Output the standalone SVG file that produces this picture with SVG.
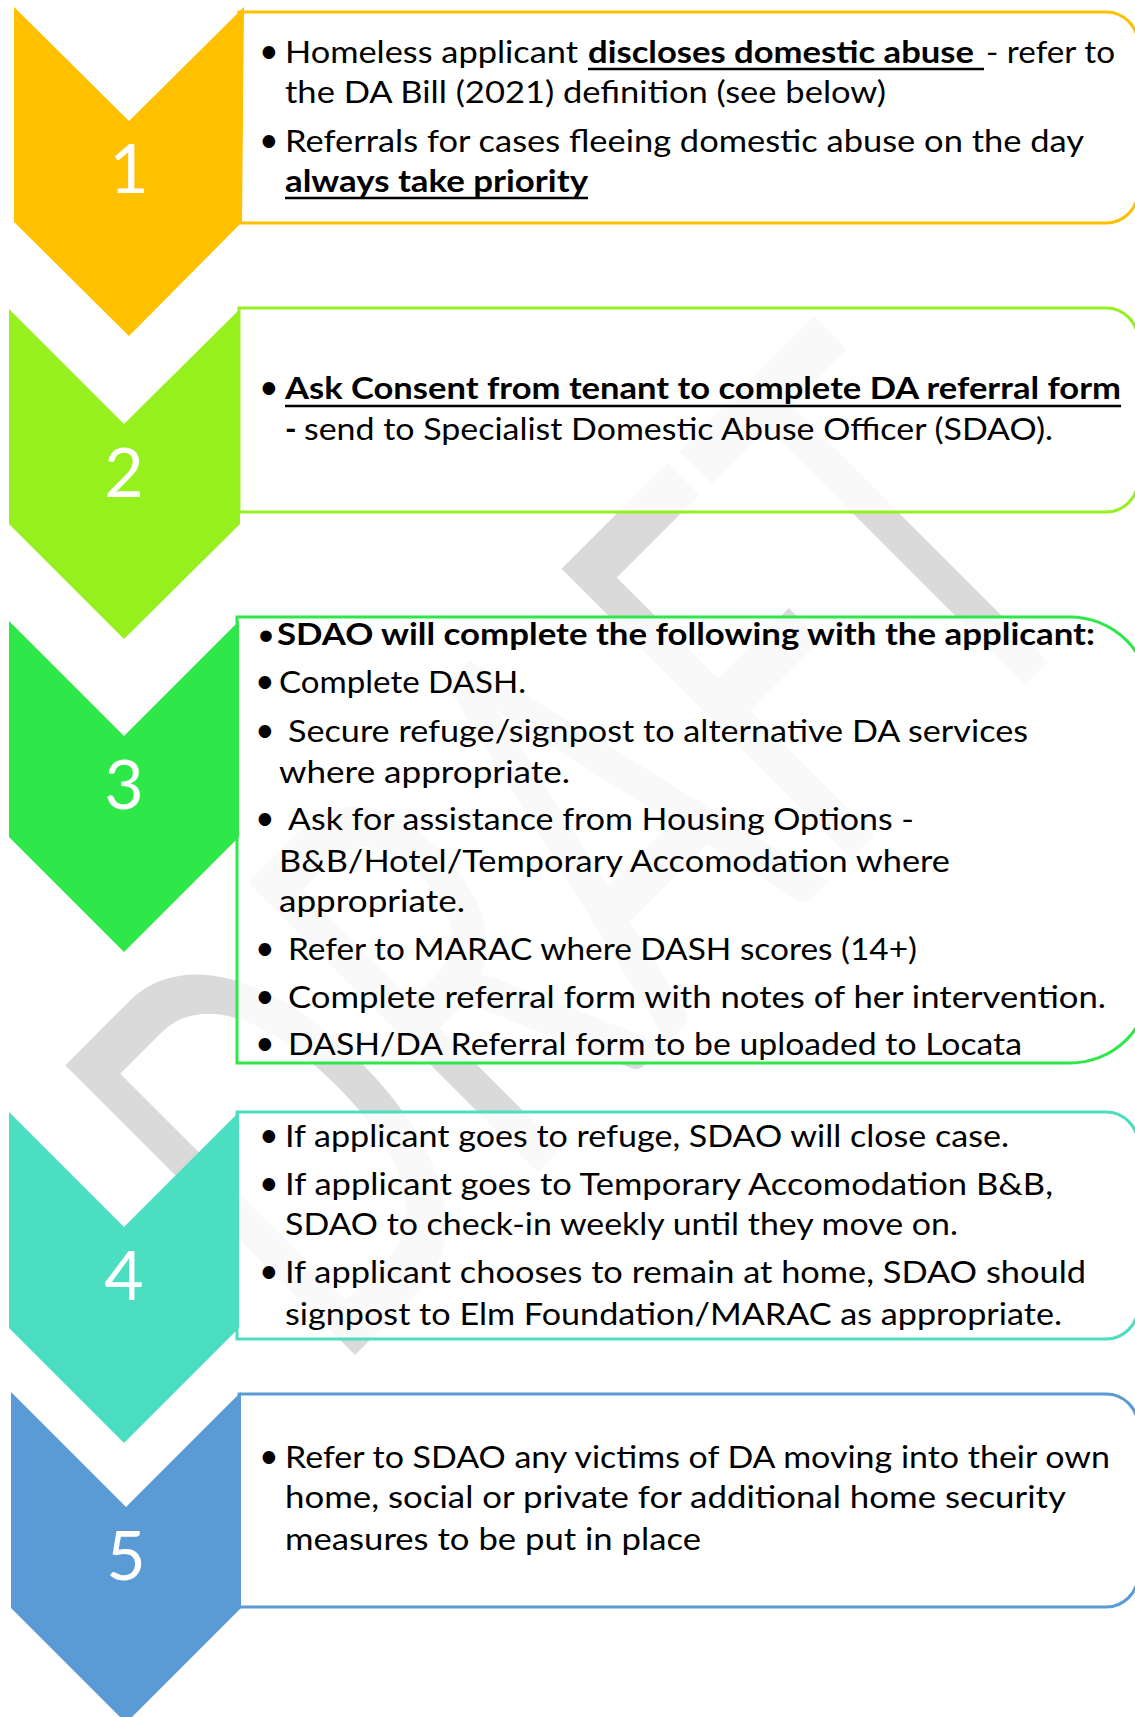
<svg xmlns="http://www.w3.org/2000/svg" width="1135" height="1717" viewBox="0 0 1135 1717">
<style>
.t{font-family:Lato,"Liberation Sans",sans-serif;font-size:31px;fill:#000}
.b{font-weight:bold}
.bl{font-family:Lato,"Liberation Sans",sans-serif;font-size:34px;fill:#000}
.num{font-family:Lato,"Liberation Sans",sans-serif;font-size:68px;fill:#fff;text-anchor:middle}
.box{fill:#fff;fill-opacity:0.82;stroke-width:3}
.ul{stroke:#000;stroke-width:2.5}
.wm{font-family:Lato,"Liberation Sans",sans-serif;font-size:572px;fill:#DADADA}
</style>
<rect width="1135" height="1717" fill="#fff"/>
<g id="watermark">
<text class="wm" transform="translate(333,1377) rotate(-45)" textLength="1095" lengthAdjust="spacingAndGlyphs">DRAFT</text>
</g>

<g id="step1">
<path class="box" stroke="#FFC000" d="M239,12 H1106 A32,32 0 0 1 1138,44 V191 A32,32 0 0 1 1106,223 H239 Z"/>
<polygon fill="#FFC000" points="14,7 129,121 244,7 242,222 129,336 14,222"/>
<text class="num" x="129" y="193">1</text>
<text class="bl" x="259" y="63">•</text>
<text class="t" x="285" y="63" textLength="293" lengthAdjust="spacingAndGlyphs">Homeless applicant</text>
<text class="t b" x="588" y="63" textLength="386" lengthAdjust="spacingAndGlyphs">discloses domestic abuse</text>
<line class="ul" x1="588" y1="69" x2="984" y2="69"/>
<text class="t" x="986" y="63" textLength="129" lengthAdjust="spacingAndGlyphs">- refer to</text>
<text class="t" x="285" y="103" textLength="601" lengthAdjust="spacingAndGlyphs">the DA Bill (2021) definition (see below)</text>
<text class="bl" x="259" y="152">•</text>
<text class="t" x="285" y="152" textLength="799" lengthAdjust="spacingAndGlyphs">Referrals for cases fleeing domestic abuse on the day</text>
<text class="t b" x="285" y="192" textLength="303" lengthAdjust="spacingAndGlyphs">always take priority</text>
<line class="ul" x1="285" y1="198" x2="588" y2="198"/>
</g>

<g id="step2">
<path class="box" stroke="#96F01E" d="M239,308 H1106 A32,32 0 0 1 1138,340 V480 A32,32 0 0 1 1106,512 H239 Z"/>
<polygon fill="#96F01E" points="9,309 124,424 240,309 240,524 124,639 9,524"/>
<text class="num" x="124" y="497">2</text>
<text class="bl" x="259" y="399">•</text>
<text class="t b" x="285" y="399" textLength="836" lengthAdjust="spacingAndGlyphs">Ask Consent from tenant to complete DA referral form</text>
<line class="ul" x1="285" y1="406" x2="1121" y2="406"/>
<text class="t b" x="285" y="440">-</text>
<text class="t" x="304" y="440" textLength="749" lengthAdjust="spacingAndGlyphs">send to Specialist Domestic Abuse Officer (SDAO).</text>
</g>

<g id="step3">
<path class="box" stroke="#2EE84A" d="M237,617 H1070 A80,80 0 0 1 1150,697 V983 A80,80 0 0 1 1070,1063 H237 Z"/>
<polygon fill="#2EE84A" points="9,621 124,736 239,621 239,837 124,952 9,837"/>
<text class="num" x="124" y="809">3</text>
<text class="t" x="257" y="645">•</text>
<text class="t b" x="277" y="645" textLength="818" lengthAdjust="spacingAndGlyphs">SDAO will complete the following with the applicant:</text>
<text class="bl" x="255" y="693">•</text>
<text class="t" x="279" y="693" textLength="247" lengthAdjust="spacingAndGlyphs">Complete DASH.</text>
<text class="bl" x="255" y="742">•</text>
<text class="t" x="288" y="742" textLength="740" lengthAdjust="spacingAndGlyphs">Secure refuge/signpost to alternative DA services</text>
<text class="t" x="279" y="783" textLength="291" lengthAdjust="spacingAndGlyphs">where appropriate.</text>
<text class="bl" x="255" y="830">•</text>
<text class="t" x="288" y="830" textLength="626" lengthAdjust="spacingAndGlyphs">Ask for assistance from Housing Options -</text>
<text class="t" x="279" y="872" textLength="671" lengthAdjust="spacingAndGlyphs">B&amp;B/Hotel/Temporary Accomodation where</text>
<text class="t" x="279" y="912" textLength="186" lengthAdjust="spacingAndGlyphs">appropriate.</text>
<text class="bl" x="255" y="960">•</text>
<text class="t" x="288" y="960" textLength="629" lengthAdjust="spacingAndGlyphs">Refer to MARAC where DASH scores (14+)</text>
<text class="bl" x="255" y="1008">•</text>
<text class="t" x="288" y="1008" textLength="818" lengthAdjust="spacingAndGlyphs">Complete referral form with notes of her intervention.</text>
<text class="bl" x="255" y="1055">•</text>
<text class="t" x="288" y="1055" textLength="734" lengthAdjust="spacingAndGlyphs">DASH/DA Referral form to be uploaded to Locata</text>
</g>

<g id="step4">
<path class="box" stroke="#4BDEC0" d="M237,1112 H1106 A32,32 0 0 1 1138,1144 V1307 A32,32 0 0 1 1106,1339 H237 Z"/>
<polygon fill="#4BDEC0" points="9,1112 124,1227 239,1112 239,1328 124,1443 9,1328"/>
<text class="num" x="124" y="1300">4</text>
<text class="bl" x="259" y="1147">•</text>
<text class="t" x="285" y="1147" textLength="724" lengthAdjust="spacingAndGlyphs">If applicant goes to refuge, SDAO will close case.</text>
<text class="bl" x="259" y="1195">•</text>
<text class="t" x="285" y="1195" textLength="768" lengthAdjust="spacingAndGlyphs">If applicant goes to Temporary Accomodation B&amp;B,</text>
<text class="t" x="285" y="1235" textLength="673" lengthAdjust="spacingAndGlyphs">SDAO to check-in weekly until they move on.</text>
<text class="bl" x="259" y="1283">•</text>
<text class="t" x="285" y="1283" textLength="801" lengthAdjust="spacingAndGlyphs">If applicant chooses to remain at home, SDAO should</text>
<text class="t" x="285" y="1325" textLength="777" lengthAdjust="spacingAndGlyphs">signpost to Elm Foundation/MARAC as appropriate.</text>
</g>

<g id="step5">
<path class="box" stroke="#5B9BD5" d="M239,1394 H1106 A32,32 0 0 1 1138,1426 V1575 A32,32 0 0 1 1106,1607 H239 Z"/>
<polygon fill="#5B9BD5" points="11,1392 126,1507 241,1392 241,1608 126,1723 11,1608"/>
<text class="num" x="126" y="1580">5</text>
<text class="bl" x="259" y="1468">•</text>
<text class="t" x="285" y="1468" textLength="825" lengthAdjust="spacingAndGlyphs">Refer to SDAO any victims of DA moving into their own</text>
<text class="t" x="285" y="1508" textLength="781" lengthAdjust="spacingAndGlyphs">home, social or private for additional home security</text>
<text class="t" x="285" y="1550" textLength="416" lengthAdjust="spacingAndGlyphs">measures to be put in place</text>
</g>
</svg>
